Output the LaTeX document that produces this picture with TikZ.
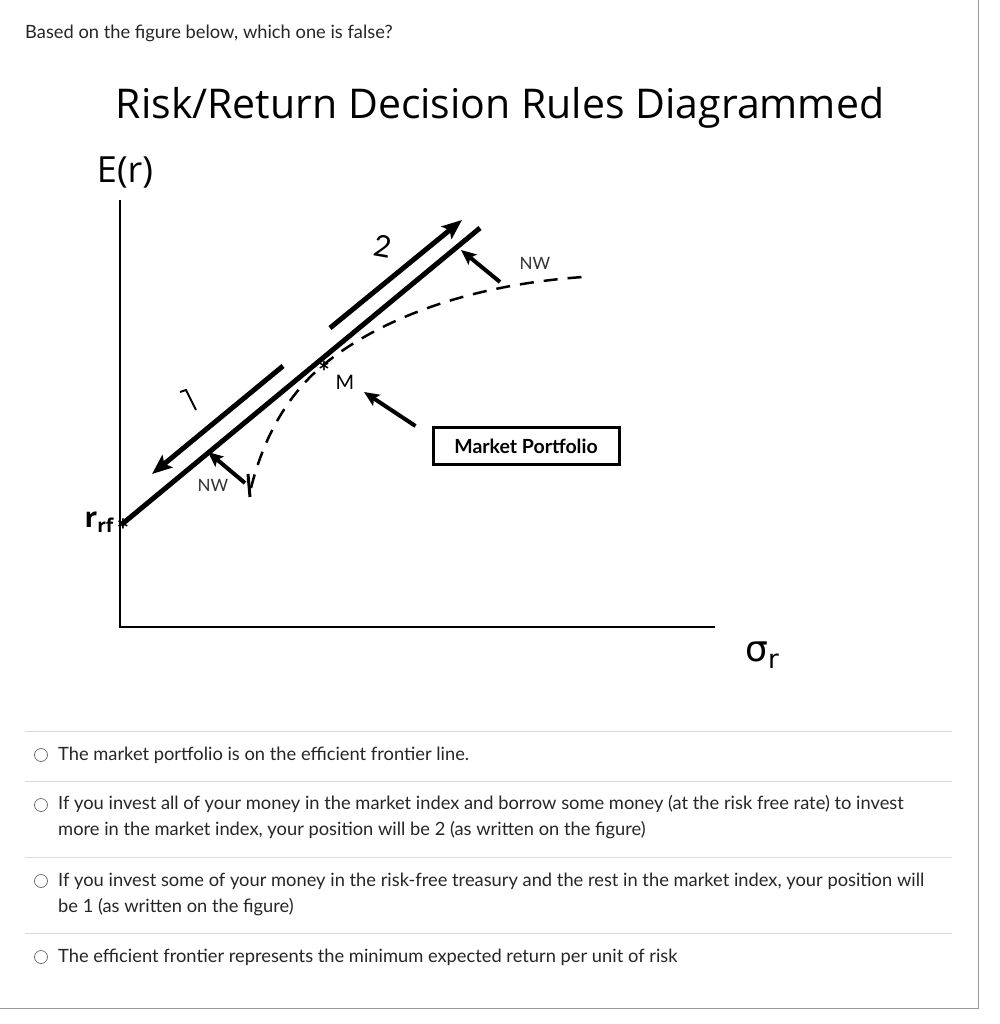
\documentclass[tikz,border=0pt]{standalone}
\usepackage{fontspec}
\setmainfont{Lato}
\newfontfamily\ttl{Open Sans}
\newfontfamily\djvfont{DejaVu Sans}
\usetikzlibrary{arrows.meta}
\begin{document}
\begin{tikzpicture}[x=1pt,y=-1pt,
  txt/.style={anchor=west,inner sep=0pt,font=\fontsize{18.3}{22}\selectfont,text=black!85},
  opt/.style={draw=black!55,line width=0.8pt},
  sep/.style={draw=black!15,line width=0.8pt},
  thick1/.style={line width=5pt},
  arr/.style={line width=5pt,-{Stealth[length=20pt,width=16pt,inset=4pt]}},
  nwarr/.style={line width=4pt,-{Stealth[length=15pt,width=13pt,inset=3pt]}}]
\useasboundingbox (0,0) rectangle (999,1024);
\fill[white] (0,0) rectangle (999,1024);
\draw[black!40,line width=1pt] (978,0) -- (978,1008) -- (0,1008);
\node[txt] (q) at (25,33) {Based on the figure below, which one is false?};
\node[font=\ttl\fontsize{41}{44}\selectfont] (title) at (500,108) {Risk/Return Decision Rules Diagrammed};
\node[font=\ttl\fontsize{36}{40}\selectfont] (er) at (125,172) {E(r)};
% axes
\coordinate (o) at (120,627);
\draw[line width=1.3pt] (120,200) -- (o) -- (715,627);
\node[font=\ttl\fontsize{36}{36}\selectfont] (sig) at (762,655) {\djvfont σ\raisebox{-7pt}{\fontsize{26}{26}\selectfont r}};
\node[font=\ttl\fontsize{28}{28}\selectfont\bfseries] (rf) at (99,522) {r\raisebox{-5pt}{\fontsize{19}{19}\selectfont rf}};
\node[font=\fontsize{30}{30}\selectfont\bfseries,inner sep=0pt] (rfs) at (123,530) {*};
% frontier
\draw[line width=2.5pt,dash pattern=on 14pt off 10pt] (251,488) .. controls (268,420) and (300,385) .. (322,366) .. controls (380,318) and (470,285) .. (583,277);
\draw[line width=3pt] (248,474) -- (250,497);
% CML
\coordinate (cmlend) at (480,228);
\draw[thick1] (121,525) -- (cmlend);
\node[font=\fontsize{28}{28}\selectfont\bfseries,inner sep=0pt] (m) at (324,372) {*};
\node[font=\fontsize{20}{20}\selectfont] (ml) at (345,382) {M};
\coordinate (a2s) at (330,328); \coordinate (a2e) at (462,220);
\draw[arr] (a2s) -- (a2e);
\coordinate (a1s) at (283,366); \coordinate (a1e) at (152,474);
\draw[arr] (a1s) -- (a1e);
\node[font=\fontsize{30}{30}\selectfont,rotate=-10] (two) at (383,246) {2};
\draw[line width=2pt] (180,392) -- (186,390) -- (196,410);
% NW arrows
\coordinate (n1s) at (245,483); \coordinate (n1e) at (208,452);
\draw[nwarr] (n1s) -- (n1e);
\node[font=\fontsize{17}{17}\selectfont,text=black!80] (nw1) at (213,485) {NW};
\coordinate (n2s) at (500,282); \coordinate (n2e) at (461,250);
\draw[nwarr] (n2s) -- (n2e);
\node[font=\fontsize{17}{17}\selectfont,text=black!80] (nw2) at (535,263) {NW};
% market portfolio
\node[draw,line width=3pt,font=\fontsize{19.5}{20}\selectfont\bfseries,minimum width=186pt,minimum height=37pt,inner sep=2pt] (mp) at (526,446) {Market Portfolio};
\draw[nwarr] (mp.north west) ++(-16,0) coordinate (mps) -- (364,392);
% options
\foreach \y in {731,781,857,933} \draw[sep] (25,\y) -- (952,\y);
\foreach \y in {755,805,881,957} \draw[opt] (41,\y) circle (6.5);
\node[txt] (o1) at (58,755) {The market portfolio is on the efficient frontier line.};
\node[txt] (o2a) at (58,804) {If you invest all of your money in the market index and borrow some money (at the risk free rate) to invest};
\node[txt] (o2b) at (58,830) {more in the market index, your position will be 2 (as written on the figure)};
\node[txt] (o3a) at (58,881) {If you invest some of your money in the risk-free treasury and the rest in the market index, your position will};
\node[txt] (o3b) at (58,907) {be 1 (as written on the figure)};
\node[txt] (o4) at (58,957) {The efficient frontier represents the minimum expected return per unit of risk};
\end{tikzpicture}
\end{document}
